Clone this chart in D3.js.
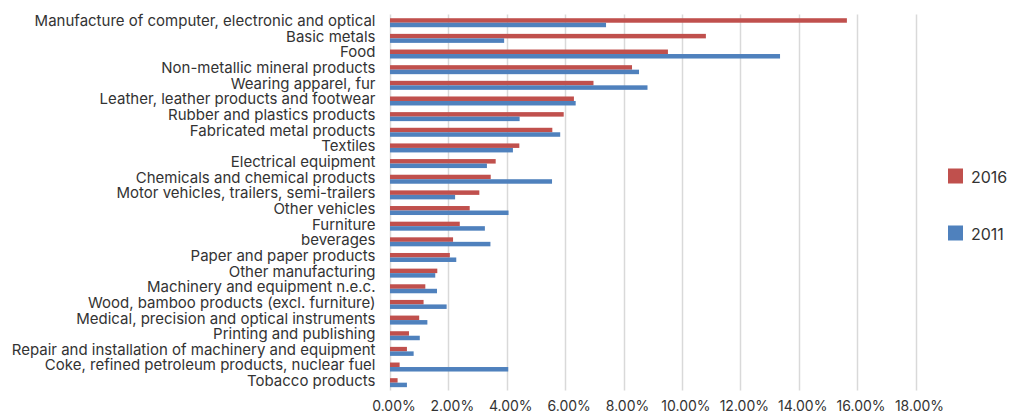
<!DOCTYPE html>
<html>
<head>
<meta charset="utf-8">
<script src="https://cdn.jsdelivr.net/npm/d3@7"></script>
<style>
  html, body { margin: 0; padding: 0; background: #fff; }
  svg { display: block; font-family: Inter, "Noto Sans", sans-serif; }
</style>
</head>
<body>
<svg id="chart" width="1010" height="414"></svg>
<script>
// Share of manufacturing output by industry, 2016 vs 2011 (percent)
const categories = [
  "Manufacture of computer, electronic and optical",
  "Basic metals",
  "Food",
  "Non-metallic mineral products",
  "Wearing apparel, fur",
  "Leather, leather products and footwear",
  "Rubber and plastics products",
  "Fabricated metal products",
  "Textiles",
  "Electrical equipment",
  "Chemicals and chemical products",
  "Motor vehicles, trailers, semi-trailers",
  "Other vehicles",
  "Furniture",
  "beverages",
  "Paper and paper products",
  "Other manufacturing",
  "Machinery and equipment n.e.c.",
  "Wood, bamboo products (excl. furniture)",
  "Medical, precision and optical instruments",
  "Printing and publishing",
  "Repair and installation of machinery and equipment",
  "Coke, refined petroleum products, nuclear fuel",
  "Tobacco products"
];
const values2016 = [15.65, 10.82, 9.52, 8.29, 6.97, 6.30, 5.95, 5.56, 4.43, 3.62, 3.45, 3.06,
                    2.73, 2.39, 2.16, 2.05, 1.62, 1.21, 1.15, 1.00, 0.65, 0.58, 0.33, 0.26];
const values2011 = [7.40, 3.91, 13.36, 8.53, 8.82, 6.36, 4.44, 5.83, 4.21, 3.32, 5.55, 2.23,
                    4.06, 3.25, 3.44, 2.27, 1.55, 1.61, 1.94, 1.28, 1.02, 0.81, 4.05, 0.58];
const xTicks = [0, 2, 4, 6, 8, 10, 12, 14, 16, 18];
const seriesNames = ["2016", "2011"];
const seriesColors = ["#C0504D", "#4F81BD"];

const svg = d3.select("#chart");

const x = d3.scaleLinear().domain([0, 18]).range([390, 915.5]);
const y = d3.scaleBand().domain(categories).range([14.9, 390.5]).padding(0);
const barH = 4.5;

// vertical gridlines
svg.append("g")
  .selectAll("line")
  .data(xTicks)
  .join("line")
  .attr("x1", d => Math.round(x(d)) + 0.5)
  .attr("x2", d => Math.round(x(d)) + 0.5)
  .attr("y1", 14.5)
  .attr("y2", 390.5)
  .attr("stroke", "#d9d9d9")
  .attr("stroke-width", 1.5);

// x-axis tick labels
svg.append("g")
  .selectAll("text")
  .data(xTicks)
  .join("text")
  .attr("x", d => x(d) + 4)
  .attr("y", 411)
  .attr("text-anchor", "middle")
  .attr("font-size", 14)
  .attr("fill", "#333")
  .text(d => d3.format(".2f")(d) + "%");

// category labels
svg.append("g")
  .selectAll("text")
  .data(categories)
  .join("text")
  .attr("x", 375.5)
  .attr("y", d => y(d) + y.bandwidth() / 2 - 1.8)
  .attr("dy", "0.35em")
  .attr("text-anchor", "end")
  .attr("font-size", 15)
  .attr("fill", "#333")
  .text(d => d);

// bars: 2016 above, 2011 below within each category band
const rows = categories.map((c, i) => ({ c, v2016: values2016[i], v2011: values2011[i] }));
const bars = svg.append("g");
bars.selectAll("rect.s2016")
  .data(rows)
  .join("rect")
  .attr("class", "s2016")
  .attr("x", x(0))
  .attr("y", d => y(d.c) + y.bandwidth() / 2 - barH)
  .attr("width", d => x(d.v2016) - x(0))
  .attr("height", barH)
  .attr("fill", seriesColors[0]);
bars.selectAll("rect.s2011")
  .data(rows)
  .join("rect")
  .attr("class", "s2011")
  .attr("x", x(0))
  .attr("y", d => y(d.c) + y.bandwidth() / 2)
  .attr("width", d => x(d.v2011) - x(0))
  .attr("height", barH)
  .attr("fill", seriesColors[1]);

// legend
const legendY = [168.5, 225.5];
const legend = svg.append("g")
  .selectAll("g")
  .data(seriesNames)
  .join("g")
  .attr("transform", (d, i) => `translate(948, ${legendY[i]})`);
legend.append("rect")
  .attr("width", 15)
  .attr("height", 15)
  .attr("fill", (d, i) => seriesColors[i]);
legend.append("text")
  .attr("x", 23)
  .attr("y", 14.5)
  .attr("font-size", 16)
  .attr("fill", "#333")
  .text(d => d);
</script>
</body>
</html>
